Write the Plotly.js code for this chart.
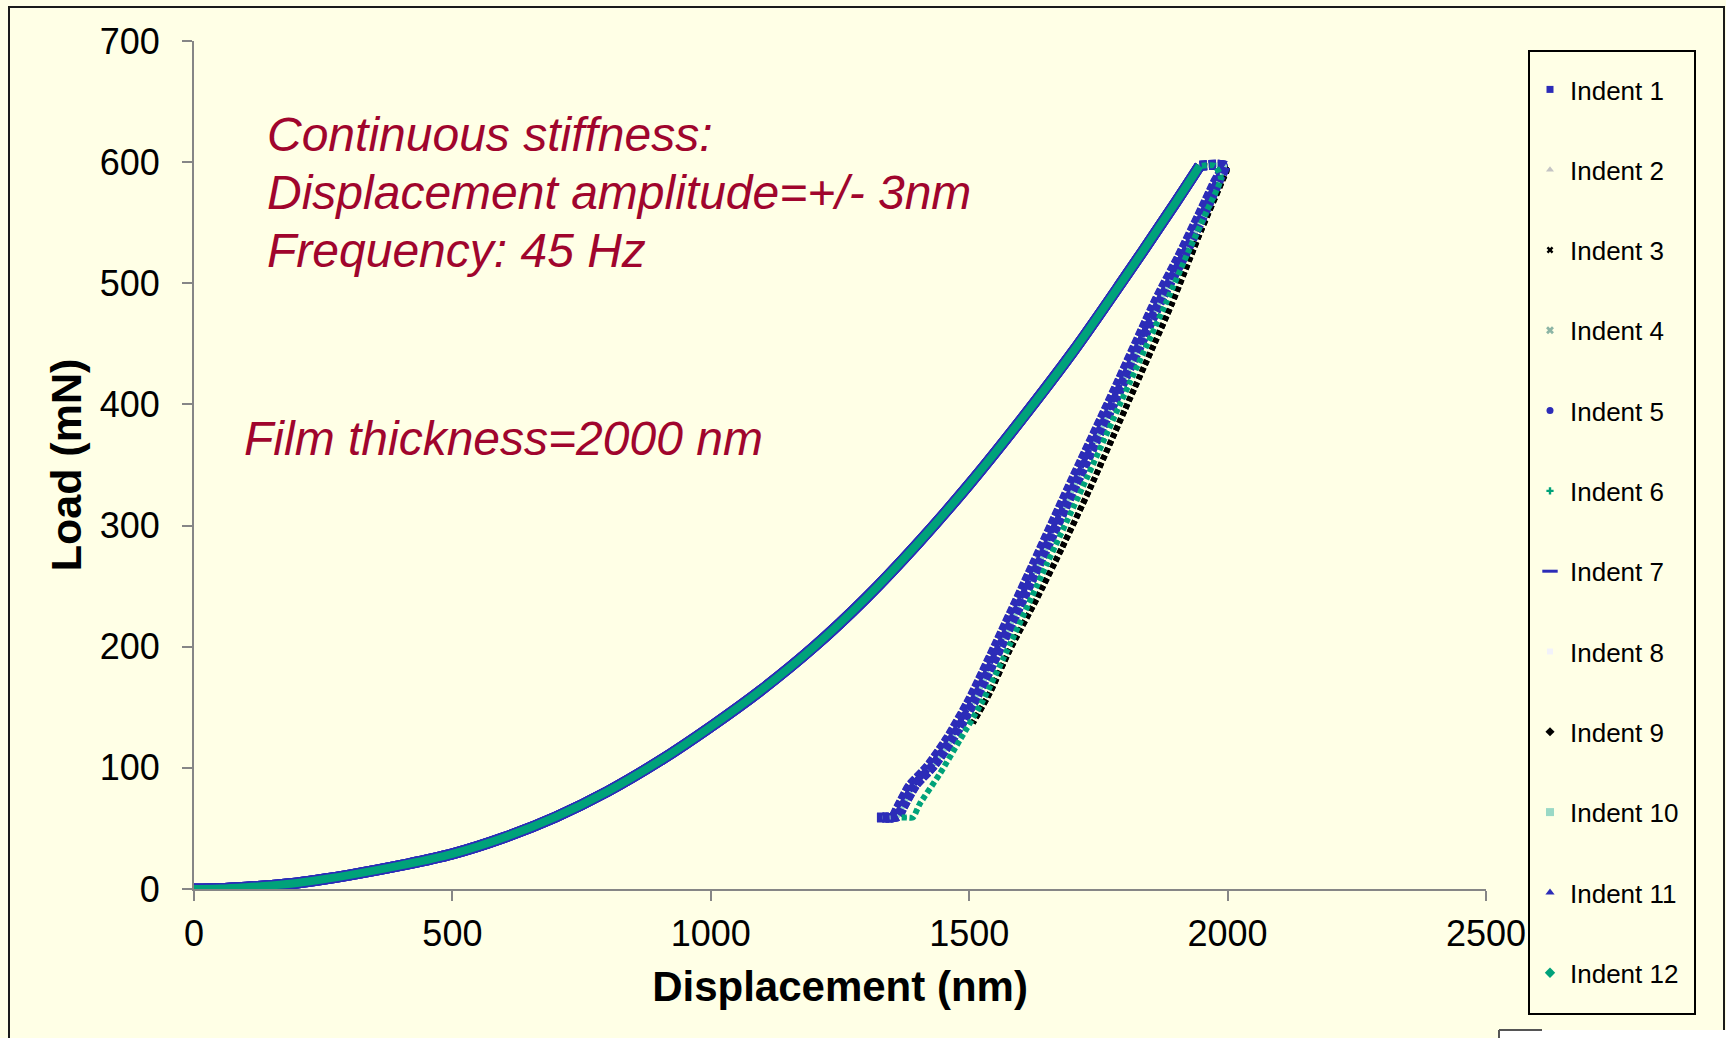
<!DOCTYPE html>
<html>
<head>
<meta charset="utf-8">
<script src="https://cdn.plot.ly/plotly-3.0.1.min.js"></script>
<style>
  html, body { margin: 0; padding: 0; background: #FFFFE6; }
  #chart { width: 1726px; height: 1038px; }
</style>
</head>
<body>
<div id="chart"></div>
<script>
// ---------------- data ----------------
const indentNames = ['Indent 1','Indent 2','Indent 3','Indent 4','Indent 5','Indent 6',
                     'Indent 7','Indent 8','Indent 9','Indent 10','Indent 11','Indent 12'];

// loading branch (all indents overlap almost perfectly)
const loadH = [0, 50, 100, 150, 200, 250, 300, 400, 500, 600, 700, 800, 900, 1000, 1100, 1200,
               1300, 1400, 1500, 1600, 1700, 1800, 1900, 1946];
const loadP = [0, 0.4, 1.5, 3, 5, 8, 11.5, 19.5, 29, 42.5, 59.5, 80.5, 105.5, 134, 165, 200,
               240, 285, 334, 387, 443, 504, 567, 597];

// hold + unloading branch, blue group A (Indents 1, 2, 7)
const unloadAH = [1946, 1991, 1975, 1945, 1905, 1862, 1780, 1694, 1625, 1555, 1501, 1458, 1420, 1385, 1362, 1352, 1336, 1320];
const unloadAP = [597, 597, 583, 556, 521, 486, 410, 332, 268, 204, 156, 124, 101, 85, 67, 59, 59, 59];

// blue group B (Indents 4, 5, 8, 10, 11)
const unloadBH = [1946, 1995, 1984, 1955, 1915, 1872, 1790, 1705, 1636, 1566, 1512, 1469, 1431, 1396, 1372, 1362, 1346, 1332];
const unloadBP = [597, 597, 586, 558, 522, 487, 411, 333, 269, 205, 157, 125, 102, 86, 68, 60, 59, 59];

// teal group C (Indents 6, 12)
const unloadCH = [1950, 1975, 1987, 1960, 1926, 1881, 1800, 1720, 1650, 1580, 1527, 1482, 1443, 1404, 1391, 1380, 1369];
const unloadCP = [597, 597, 587, 560, 528, 484, 408, 332, 268, 203, 156, 123, 95, 70, 59, 59, 59];

// black group D (Indents 3, 9) - stops higher
const unloadDH = [1950, 1998, 1990, 1950, 1891, 1810, 1733, 1680, 1630, 1578, 1540, 1507];
const unloadDP = [597, 594, 585, 545, 482, 404, 330, 282, 239, 197, 162, 137];

const xTicks = [0, 500, 1000, 1500, 2000, 2500];
const yTicks = [0, 100, 200, 300, 400, 500, 600, 700];

// ---------------- styles ----------------
const FONT = 'Liberation Sans, Arial, sans-serif';
const BLUE = '#2C2CB8', TEAL = '#00A27A', BLACK = '#000000';
const unloadSets = {
  A: [unloadAH, unloadAP], B: [unloadBH, unloadBP],
  C: [unloadCH, unloadCP], D: [unloadDH, unloadDP]
};
// per indent: colour, legend symbol, legend size, unloading group, load width, unload width, dash
const styles = [
  {c: BLUE,      sym: 'square',        ms: 7,  g: 'A', lw: 11, uw: 10, dash: '7px,2px'},
  {c: '#C4C4C4', sym: 'triangle-up',   ms: 7,  g: 'A', lw: 3,  uw: 3, dash: '3px,5px'},
  {c: BLACK,     sym: 'x',             ms: 6,  g: 'D', lw: 9,  uw: 6, dash: '5px,3px'},
  {c: '#8CB5A5', sym: 'x',             ms: 7,  g: 'B', lw: 4,  uw: 4, dash: '4px,4px'},
  {c: BLUE,      sym: 'circle',        ms: 7,  g: 'B', lw: 11, uw: 10, dash: '7px,2px'},
  {c: TEAL,      sym: 'cross',         ms: 6,  g: 'C', lw: 4,  uw: 3, dash: '3px,5px'},
  {c: BLUE,      sym: 'line-ew',       ms: 11, g: 'A', lw: 11, uw: 9, dash: '7px,2px', ml: 3},
  {c: '#F2F2FA', sym: 'square',        ms: 6,  g: 'B', lw: 2,  uw: 2, dash: '3px,5px'},
  {c: BLACK,     sym: 'diamond',       ms: 7,  g: 'D', lw: 6,  uw: 6, dash: '5px,3px'},
  {c: '#9AD9C6', sym: 'square',        ms: 8,  g: 'B', lw: 4,  uw: 4, dash: '4px,4px'},
  {c: BLUE,      sym: 'triangle-up',   ms: 8,  g: 'B', lw: 11, uw: 10, dash: '7px,2px'},
  {c: TEAL,      sym: 'diamond',       ms: 8,  g: 'C', lw: 8,  uw: 6, dash: '5px,3px'}
];

const traces = [];
indentNames.forEach((name, i) => {
  const s = styles[i];
  const u = unloadSets[s.g];
  traces.push({
    x: loadH, y: loadP, type: 'scatter', mode: 'lines', showlegend: false,
    hoverinfo: 'skip', line: {color: s.c, width: s.lw, shape: 'spline', smoothing: 1}
  });
  traces.push({
    x: u[0], y: u[1], type: 'scatter', mode: 'lines', showlegend: false,
    hoverinfo: 'skip', line: {color: s.c, width: s.uw, dash: s.dash, shape: 'spline', smoothing: 0.6}
  });
});
// legend entries (markers only, as in the original)
indentNames.forEach((name, i) => {
  const s = styles[i];
  traces.push({
    x: [null], y: [null], type: 'scatter', mode: 'markers', name: name,
    legendgroup: 'g' + i,
    marker: {color: s.c, symbol: s.sym, size: s.ms,
             line: s.ml ? {color: s.c, width: s.ml} : {width: 0}}
  });
});

// pixel -> paper helpers (plot area: x 194..1486, y 41..889)
const PL = 194, PW = 1292, PT = 41, PH = 848;
const px = v => (v - PL) / PW;
const py = v => (PT + PH - v) / PH;

const RED = '#A0052D';
const annFont = {family: FONT, size: 48, color: RED, style: 'italic'};
const annotations = [
  {text: 'Continuous stiffness:', x: px(265), y: py(134), yanchor: 'middle'},
  {text: 'Displacement amplitude=+/- 3nm', x: px(265), y: py(192), yanchor: 'middle'},
  {text: 'Frequency: 45 Hz', x: px(265), y: py(250), yanchor: 'middle'},
  {text: 'Film thickness=2000 nm', x: px(242), y: py(438), yanchor: 'middle'}
].map(a => Object.assign({xref: 'paper', yref: 'paper', xanchor: 'left', showarrow: false, font: annFont}, a));

const shapes = [
  // outer chart frame
  {type: 'rect', xref: 'paper', yref: 'paper', x0: px(9), x1: px(1724), y0: py(1060), y1: py(7),
   line: {color: '#1A1A1A', width: 2}, fillcolor: 'rgba(0,0,0,0)', layer: 'below'},
  // legend box
  {type: 'rect', xref: 'paper', yref: 'paper', x0: px(1529), x1: px(1695), y0: py(1014), y1: py(51),
   line: {color: '#000000', width: 2}, fillcolor: 'rgba(0,0,0,0)', layer: 'below'},
  // small white patch at the bottom right
  {type: 'rect', xref: 'paper', yref: 'paper', x0: px(1499), x1: px(1730), y0: py(1045), y1: py(1030),
   line: {width: 0}, fillcolor: '#FFFFFF', layer: 'below'},
  {type: 'line', xref: 'paper', yref: 'paper', x0: px(1499), x1: px(1542), y0: py(1030), y1: py(1030),
   line: {color: '#555555', width: 2}},
  {type: 'line', xref: 'paper', yref: 'paper', x0: px(1499), x1: px(1499), y0: py(1030), y1: py(1045),
   line: {color: '#555555', width: 2}}
];

const axisCommon = {
  showgrid: false, zeroline: false, showline: true, linecolor: '#868686', linewidth: 2,
  ticks: 'outside', ticklen: 10, tickwidth: 2, tickcolor: '#868686',
  tickfont: {family: FONT, size: 36, color: '#000000'}, fixedrange: true
};

const layout = {
  width: 1726, height: 1038,
  margin: {l: PL, r: 1726 - PL - PW, t: PT, b: 1038 - PT - PH, pad: 0},
  paper_bgcolor: '#FFFFE6', plot_bgcolor: '#FFFFE6',
  font: {family: FONT, color: '#000000'},
  showlegend: true,
  xaxis: Object.assign({}, axisCommon, {
    range: [0, 2500], tickmode: 'array', tickvals: xTicks, ticktext: xTicks.map(String),
    ticklabelstandoff: 2,
    title: {text: 'Displacement (nm)', font: {family: FONT, size: 42, color: '#000000', weight: 'bold'}, standoff: 18}
  }),
  yaxis: Object.assign({}, axisCommon, {
    range: [0, 700], tickmode: 'array', tickvals: yTicks, ticktext: yTicks.map(String),
    ticklabelstandoff: 15,
    title: {text: 'Load (mN)', font: {family: FONT, size: 43, color: '#000000', weight: 'bold'}, standoff: 5}
  }),
  legend: {
    x: px(1530), xanchor: 'left', y: py(66), yanchor: 'top',
    bgcolor: 'rgba(0,0,0,0)', borderwidth: 0, maxheight: 1000,
    font: {family: FONT, size: 26, color: '#000000'},
    traceorder: 'grouped', tracegroupgap: 43.5, itemwidth: 30
  },
  annotations: annotations,
  shapes: shapes
};

Plotly.newPlot('chart', traces, layout, {displayModeBar: false, staticPlot: true});
</script>
</body>
</html>
